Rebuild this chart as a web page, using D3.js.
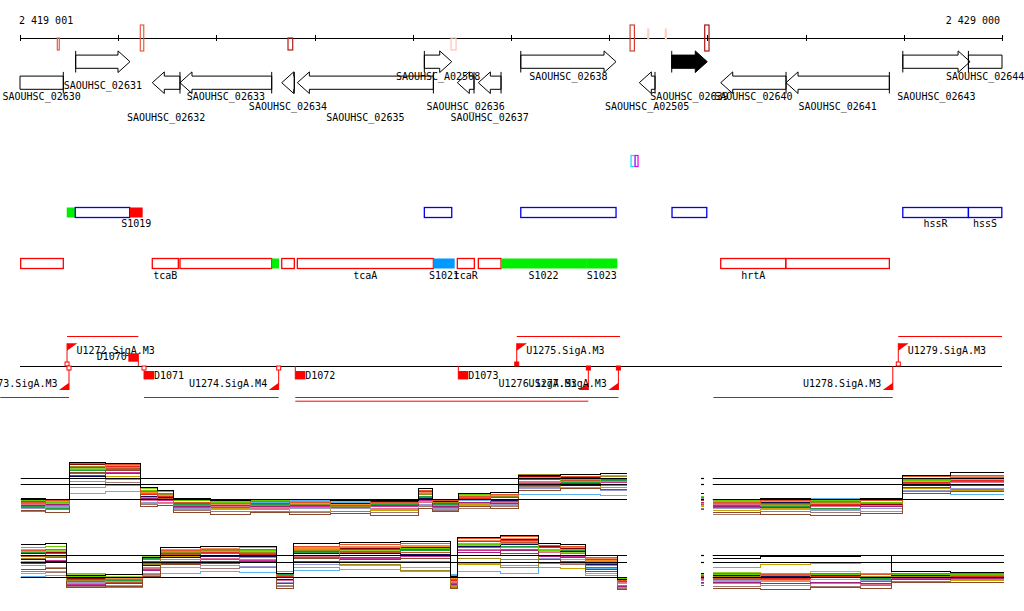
<!DOCTYPE html>
<html>
<head>
<meta charset="utf-8">
<script src="https://cdn.jsdelivr.net/npm/d3@7"></script>
<style>
  body { margin: 0; background: #fff; }
  text { font-family: "DejaVu Sans Mono", monospace; font-size: 10px; fill: #000; }
</style>
</head>
<body>
<div id="chart"></div>
<script>
// region shown
const regionStart = 2419001;
const regionEnd = 2429000;
const rulerLabels = ["2 419 001", "2 429 000"];
const rulerTickStep = 1000;

// marks on the ruler (score -> colour)
const markStarts = [2419381, 2420226, 2421730, 2423390, 2425213, 2425393, 2425572, 2425973];
const markEnds   = [2419401, 2420261, 2421778, 2423441, 2425257, 2425403, 2425582, 2426017];
const markKinds  = ["below", "both", "below", "below", "both", "above", "above", "both"];
const markScores = [0.55, 0.55, 0.9, 0.12, 0.7, 0.08, 0.08, 0.95];

// genes
const geneNames = ["SAOUHSC_02630", "SAOUHSC_02631", "SAOUHSC_02632", "SAOUHSC_02633", "SAOUHSC_02634",
  "SAOUHSC_02635", "SAOUHSC_A02508", "SAOUHSC_02636", "SAOUHSC_02637", "SAOUHSC_02638",
  "SAOUHSC_A02505", "SAOUHSC_02639", "SAOUHSC_02640", "SAOUHSC_02641", "SAOUHSC_02643", "SAOUHSC_02644"];
const geneStarts = [2418800, 2419568, 2420348, 2420630, 2421666, 2421825, 2423118, 2423454, 2423668, 2424100,
  2425307, 2425637, 2426136, 2426801, 2427990, 2428658];
const geneEnds = [2419442, 2420121, 2420630, 2421564, 2421794, 2423210, 2423397, 2423624, 2423899, 2425070,
  2425467, 2425999, 2426801, 2427853, 2428675, 2429100];
const geneStrands = [-1, 1, -1, -1, -1, -1, 1, -1, -1, 1, -1, 1, -1, -1, 1, 1];
const geneLabelRows = [2, 1, 4, 2, 3, 4, 0, 3, 4, 0, 3, 2, 2, 3, 2, 0];
const selectedGene = "SAOUHSC_02639";

// small features
const smallStarts = [2425223, 2425264];
const smallEnds = [2425264, 2425294];
const smallTypes = ["cyan", "magenta"];

// operon / segment track
const segStarts = [2419477, 2419564, 2420118, 2423118, 2424100, 2425640, 2427990, 2428658];
const segEnds   = [2419564, 2420118, 2420250, 2423397, 2425070, 2425994, 2428658, 2428998];
const segTypes  = ["up", "orf", "down", "orf", "orf", "orf", "orf", "orf"];
const segLabels = ["", "", "S1019", "", "", "", "hssR", "hssS"];

// annotation track
const annStarts = [2419008, 2420348, 2420630, 2421564, 2421666, 2421825, 2423210, 2423454, 2423668, 2423899, 2424765, 2426136, 2426798];
const annEnds   = [2419442, 2420613, 2421564, 2421638, 2421794, 2423210, 2423427, 2423627, 2423899, 2424765, 2425083, 2426798, 2427853];
const annTypes  = ["gene", "gene", "gene", "srnaG", "gene", "gene", "srnaB", "gene", "gene", "srnaG", "srnaG", "gene", "gene"];
const annLabels = ["", "tcaB", "", "", "", "tcaA", "S1021", "tcaR", "", "S1022", "S1023", "hrtA", ""];

// transcription units
const unitNames   = ["U1272.SigA.M3", "U1275.SigA.M3", "U1279.SigA.M3", "U1273.SigA.M3", "U1274.SigA.M4",
  "U1276.SigA.M3", "U1277.SigA.M3", "U1278.SigA.M3"];
const unitTss     = [2419480, 2424059, 2427944, 2419500, 2421635, 2424788, 2425094, 2427888];
const unitOtherEnd = [2420206, 2425111, 2429000, 2418800, 2420264, 2421804, 2421804, 2426061];
const unitStrands = [1, 1, 1, -1, -1, -1, -1, -1];
const unitMarkers = ["open", "filled", "open", "open", "open", "filled", "filled", "none"];
const unitRows    = [0, 0, 0, 0, 0, 1, 0, 0];

// terminators
const termNames   = ["D1070", "D1071", "D1072", "D1073"];
const termPos     = [2420206, 2420264, 2421804, 2423464];
const termStrands = [1, -1, -1, -1];
const termMarkers = ["none", "open", "none", "none"];

// expression: step starts for each block, then block end
const p1Left = [2419008, 2419256, 2419500, 2419867, 2420223, 2420396, 2420559, 2420936, 2421343, 2421750,
  2422158, 2422565, 2423054, 2423206, 2423461, 2423787, 2424072, 2424500, 2424907];
const p2Left = [2419008, 2419256, 2419477, 2419867, 2420253, 2420427, 2420834, 2421241, 2421608, 2421781,
  2422259, 2422871, 2423380, 2423451, 2423889, 2424276, 2424500, 2424755, 2425081];
const leftEnd = 2425182;
const stubStarts = [2425935];
const stubEnd = 2425966;
const p1Right = [2426055, 2426537, 2427046, 2427555, 2427983, 2428471];
const p2Right = [2426055, 2426537, 2427046, 2427555, 2427870, 2428471];
const rightEnd = 2429020;

const refLevels1 = [11, 10, 7.5];
const refLevels2 = [11, 9.8, 7.3];

const expr1 = [
  [7.6,7.4, 13.6,13.5, 9.4,9.0, 7.6,7.3,7.4,7.5,7.3,7.2, 9.2,7.5, 8.4,8.6, 11.4,11.6,11.8, 8.4, 7.5,7.6,7.4,7.6, 11.5,11.9],
  [7.0,7.2, 13.4,13.2, 8.8,8.5, 7.0,6.8,7.1,6.9,7.2,7.0, 9.0,7.3, 8.0,8.3, 10.9,11.2,11.0, 7.8, 7.0,7.3,7.1,7.2, 11.2,11.4],
  [6.8,6.5, 13.0,13.3, 8.5,8.2, 6.5,6.7,6.4,6.6,6.3,6.8, 8.2,6.9, 7.8,8.0, 11.6,11.0,11.3, 7.5, 6.8,6.6,6.9,6.7, 10.8,11.1],
  [7.3,7.0, 12.5,12.8, 9.0,8.7, 7.2,7.0,7.3,7.1,7.4,7.0, 8.5,7.4, 8.2,7.9, 10.5,10.7,10.4, 8.0, 7.3,7.5,7.2,7.0, 10.6,10.9],
  [5.6,5.2, 12.0,12.2, 6.2,6.5, 5.3,5.0,5.2,4.9,5.1,4.8, 6.0,5.4, 6.2,6.0, 9.0,9.3,9.1, 5.8, 5.3,5.0,4.8,5.1, 8.5,8.8],
  [6.4,6.6, 11.5,11.8, 7.6,7.4, 6.2,6.4,6.3,6.5,6.2,6.4, 7.4,6.3, 7.0,6.8, 9.8,10.1,9.9, 7.0, 6.3,6.1,6.4,6.2, 9.5,9.8],
  [6.9,6.7, 8.4,8.7, 7.8,7.5, 6.9,7.1,7.0,7.2,7.0,6.9, 7.1,7.0, 7.3,7.5, 8.3,8.2,8.1, 7.6, 7.1,7.3,7.6,7.5, 8.4,8.2],
  [6.0,6.2, 9.4,9.7, 7.0,6.8, 6.0,5.8,6.1,5.9,6.0,5.7, 6.6,6.0, 6.4,6.6, 9.2,9.5,9.0, 6.4, 6.0,5.8,5.6,5.9, 9.0,9.3],
  [6.6,6.3, 10.5,10.8, 7.2,7.0, 6.0,6.2,5.9,6.1,6.3,6.0, 7.0,6.5, 6.8,7.0, 10.2,10.4,10.0, 6.8, 6.6,6.4,6.2,6.5, 10.0,10.3],
  [7.1,6.9, 12.8,13.0, 8.2,8.0, 6.7,6.5,6.8,6.6,6.9,6.4, 8.8,6.8, 7.6,7.8, 10.7,11.0,10.8, 7.2, 6.5,6.8,6.6,6.3, 10.3,10.6],
  [7.2,7.0, 11.2,11.0, 8.0,7.8, 7.0,6.9,7.1,7.0,6.8,7.1, 7.6,7.1, 7.5,7.3, 10.0,9.7,9.9, 7.4, 7.2,7.0,7.1,6.9, 9.7,9.9],
  [6.2,6.0, 12.2,12.5, 7.9,7.7, 6.6,6.3,6.6,6.4,6.5,6.6, 8.0,6.6, 7.2,7.4, 10.4,10.2,10.6, 6.9, 6.1,6.3,6.0,6.4, 10.1,10.4],
  [5.9,6.1, 11.0,11.3, 6.8,7.0, 5.8,6.0,5.7,5.5,5.9,5.6, 6.4,5.8, 6.6,6.4, 9.5,9.7,9.4, 6.2, 5.6,5.9,5.7,5.4, 9.2,9.0],
  [6.5,6.8, 13.0,12.7, 8.4,8.1, 6.8,6.6,6.9,6.7,7.0,6.7, 8.6,7.0, 7.9,8.1, 11.1,11.3,11.5, 7.7, 6.9,7.1,6.8,7.0, 11.0,11.3],
  [6.9,7.1, 12.9,13.1, 8.6,8.3, 6.9,7.2,6.8,7.0,6.6,6.9, 8.4,7.1, 7.7,8.2, 11.0,10.9,11.2, 7.6, 7.1,6.9,7.3,6.8, 10.9,11.0],
  [6.3,6.5, 11.8,12.0, 7.4,7.2, 6.4,6.1,6.5,6.3,6.1,6.3, 7.2,6.2, 6.9,7.1, 10.1,9.8,10.2, 6.7, 6.4,6.2,6.6,6.0, 9.8,10.0],
  [7.4,7.2, 12.6,12.4, 9.2,8.9, 7.4,7.2,7.0,7.3,7.1,7.3, 8.7,7.2, 8.1,8.3, 10.8,10.5,10.9, 7.9, 7.4,7.2,7.0,7.3, 10.5,10.7],
  [6.1,5.9, 12.4,12.6, 7.3,7.6, 6.1,5.9,6.2,6.0,6.4,5.8, 7.8,6.1, 7.4,7.0, 10.3,10.6,10.4, 6.6, 5.9,6.1,5.8,6.2, 10.2,9.9],
  [7.0,6.8, 13.2,13.0, 8.0,8.4, 6.6,6.9,6.6,6.8,6.7,6.5, 8.3,6.7, 7.5,7.7, 11.3,11.1,11.0, 7.3, 6.7,6.9,7.0,6.6, 10.7,11.1],
  [5.4,5.7, 10.0,10.3, 6.6,6.4, 5.6,5.4,5.5,5.2,5.5,5.3, 6.2,5.6, 6.0,6.3, 9.6,9.4,9.7, 6.0, 5.0,5.4,5.2,5.5, 8.8,9.1]
];

const expr2 = [
  [12.8,12.9, 7.6,7.8, 10.6,12.2,12.4,12.5, 7.9, 13.0,13.1,13.2, 7.4, 14.0,14.3, 12.9,12.8, 11.0, 7.0, 8.0, 10.5,10.7,10.8,10.9, 8.2,8.1],
  [11.8,12.0, 7.2,7.0, 10.2,11.8,12.0,11.9, 7.6, 12.5,12.7,12.9, 7.0, 13.8,14.1, 12.6,12.4, 10.6, 6.8, 7.6, 8.0,7.8,7.9,7.7, 7.9,8.0],
  [10.5,10.8, 6.8,6.9, 9.5,11.5,11.7,11.4, 7.2, 11.8,9.5,8.4, 6.0, 10.5,9.0, 11.0,11.2, 9.8, 6.0, 7.0, 7.4,7.6,7.3,7.5, 7.5,7.6],
  [12.2,12.4, 7.5,7.7, 11.0,11.6,11.9,11.8, 8.2, 12.0,12.2,12.1, 7.6, 12.8,13.0, 11.8,12.0, 10.0, 7.1, 7.8, 7.8,8.0,7.7,7.9, 7.7,7.8],
  [8.6,8.8, 5.6,5.8, 7.4,9.5,9.6,9.8, 5.5, 10.4,10.6,10.5, 5.4, 11.0,11.3, 10.2,10.0, 8.2, 5.2, 6.0, 5.5,5.3,5.6,5.4, 6.5,6.4],
  [9.6,9.8, 6.0,6.2, 8.4,9.6,9.9,10.0, 6.2, 10.0,10.2,10.4, 6.1, 11.5,11.8, 10.8,10.6, 8.6, 5.8, 6.5, 6.4,6.2,6.5,6.3, 7.0,7.1],
  [7.4,7.6, 7.9,7.8, 7.6,8.0,8.2,8.1, 7.6, 8.4,8.6,8.5, 7.8, 8.2,8.0, 9.8,9.6, 8.8, 7.1, 7.6, 7.7,7.9,7.8,8.0, 7.8,7.7],
  [8.0,8.3, 6.4,6.6, 8.0,9.0,9.2,9.1, 6.5, 9.4,9.2,9.0, 6.6, 9.6,9.8, 10.5,10.3, 8.0, 6.2, 6.8, 6.8,6.6,6.9,6.7, 7.2,7.3],
  [9.2,9.0, 6.5,6.3, 8.8,10.2,10.4,10.3, 6.8, 10.8,11.0,10.9, 6.4, 12.0,12.3, 11.4,11.2, 9.2, 6.4, 7.2, 6.2,6.0,6.3,6.1, 6.9,7.0],
  [11.0,11.3, 7.0,7.2, 10.0,11.2,11.4,11.1, 7.4, 11.6,11.9,12.0, 6.8, 13.2,13.5, 12.2,12.0, 10.3, 6.6, 7.4, 7.3,7.1,7.4,7.2, 7.4,7.5],
  [10.2,10.0, 7.4,7.3, 9.2,10.6,10.8,10.7, 7.0, 11.2,11.3,11.1, 7.2, 12.5,12.8, 11.8,11.6, 9.5, 6.9, 7.3, 7.6,7.4,7.5,7.3, 7.6,7.4],
  [11.5,11.2, 6.6,6.8, 10.4,11.0,11.3,11.2, 7.8, 11.4,11.6,11.7, 6.5, 12.2,12.5, 11.5,11.7, 9.6, 6.2, 7.0, 7.0,7.2,6.9,7.1, 7.3,7.2],
  [10.0,9.8, 6.2,6.0, 9.0,10.8,10.5,10.6, 6.0, 9.0,8.6,8.3, 5.8, 9.5,9.2, 9.0,8.8, 7.6, 5.6, 6.4, 9.0,9.4,9.6,9.8, 7.0,6.8],
  [11.4,11.6, 6.9,7.1, 9.8,11.9,12.1,12.2, 7.5, 12.3,12.4,12.6, 6.9, 13.5,13.8, 12.3,12.5, 10.4, 6.7, 7.5, 6.6,6.8,6.5,6.7, 7.2,7.4],
  [11.6,11.9, 7.3,7.1, 10.0,11.4,11.6,11.7, 7.7, 12.1,12.3,12.4, 7.1, 13.0,13.3, 12.0,12.2, 10.1, 6.9, 7.7, 7.9,7.7,7.8,8.0, 7.6,7.9],
  [9.8,10.1, 6.1,6.3, 8.6,10.0,10.2,10.1, 6.4, 10.6,10.4,10.7, 6.2, 11.8,12.0, 11.0,10.8, 8.9, 6.0, 6.7, 6.5,6.7,6.4,6.6, 7.1,6.9],
  [12.0,11.7, 7.7,7.5, 10.8,11.3,11.5,11.6, 8.0, 11.9,11.7,11.9, 7.4, 12.6,12.4, 11.6,11.4, 9.9, 7.0, 7.9, 8.1,7.9,8.2,8.0, 8.0,7.8],
  [10.8,10.6, 6.7,6.5, 9.6,11.1,10.9,11.0, 7.0, 11.0,11.4,11.5, 6.6, 12.9,13.1, 11.9,11.8, 9.7, 6.3, 7.1, 7.1,6.9,7.2,7.0, 7.3,7.1],
  [11.2,11.4, 7.1,6.9, 10.3,11.6,11.8,11.5, 7.3, 11.9,12.1,12.2, 6.7, 13.4,13.6, 12.4,12.1, 10.2, 6.5, 7.2, 7.5,7.3,7.6,7.4, 7.5,7.3],
  [8.3,8.1, 5.8,5.6, 7.8,9.0,8.8,8.9, 5.8, 9.8,9.9,10.0, 5.6, 10.4,10.2, 9.6,9.4, 7.9, 5.4, 6.2, 5.8,6.0,5.7,5.9, 6.6,6.7]
];

// ---------------------------------------------------------------
const width = 1024, height = 611;
const red = "#ff0000";
const segColors = { up: "#00ee00", orf: "#0000ee", down: "#ff0000" };
const annColors = { gene: "#ff0000", srnaG: "#00ee00", srnaB: "#0099ff" };
const smallColors = { cyan: "#00e5ee", magenta: "#ee00ee" };
const traceColors = ["#000000", "#e0562a", "#9c8a1c", "#66cc00", "#8b4a2b", "#a0207a", "#5ab4f0",
  "#9a9ad0", "#e07090", "#e8281e", "#10105a", "#20a040", "#c8a000", "#f08a60",
  "#ff8c1a", "#cc3399", "#99cc33", "#c0562a", "#8b0000", "#a0786e"];

const svg = d3.select("#chart").append("svg")
  .attr("width", width).attr("height", height)
  .style("background", "#fff");

const x = d3.scaleLinear().domain([regionStart, regionEnd]).range([20, 1002]);
const xMin = 20, xMax = 1002;

// ruler
const rulerY = 38;
svg.append("line").attr("x1", xMin).attr("x2", xMax).attr("y1", rulerY).attr("y2", rulerY)
  .attr("stroke", "#000").attr("shape-rendering", "crispEdges");
const ticks = d3.range(regionStart, regionEnd + 1, rulerTickStep).concat([regionEnd]);
svg.selectAll(".tick").data(ticks).enter().append("line")
  .attr("x1", d => Math.round(x(d)) + 0.5).attr("x2", d => Math.round(x(d)) + 0.5)
  .attr("y1", rulerY - 3).attr("y2", rulerY + 3).attr("stroke", "#000");
svg.append("text").attr("x", 19).attr("y", 24).text(rulerLabels[0]);
svg.append("text").attr("x", 1000).attr("y", 24).attr("text-anchor", "end").text(rulerLabels[1]);

const markColor = d3.scaleLinear().domain([0, 0.5, 1]).range(["#ffe4d8", "#f26448", "#a00a0a"]);
const markExtent = { below: [38, 50], both: [25, 51], above: [29, 39] };
markStarts.forEach((s, i) => {
  const e = markExtent[markKinds[i]];
  const x0 = x(s), w = Math.max(x(markEnds[i]) - x0, 1);
  svg.append("rect").attr("x", x0).attr("y", e[0]).attr("width", w).attr("height", e[1] - e[0])
    .attr("fill", "none").attr("stroke", markColor(markScores[i])).attr("stroke-width", 1.2);
});

// genes
const labelRowY = [79.5, 89, 100, 109.5, 121];
const genes = geneNames.map((n, i) => ({
  name: n, start: geneStarts[i], end: geneEnds[i], strand: geneStrands[i], row: geneLabelRows[i]
}));
const gGenes = svg.append("g");
genes.forEach(d => {
  let a = x(d.start), b = x(d.end);
  const clipL = a < xMin, clipR = b > xMax;
  a = Math.max(a, xMin); b = Math.min(b, xMax);
  const cy = d.strand > 0 ? 61.7 : 82.7;
  const bh = 6.6, hh = 10.8;
  const head = Math.min(12, b - a);
  let p;
  if (d.strand > 0 && !clipR) {
    p = `M${a},${cy - bh}L${b - head},${cy - bh}L${b - head},${cy - hh}L${b},${cy}L${b - head},${cy + hh}L${b - head},${cy + bh}L${a},${cy + bh}Z`;
  } else if (d.strand < 0 && !clipL) {
    p = `M${b},${cy - bh}L${a + head},${cy - bh}L${a + head},${cy - hh}L${a},${cy}L${a + head},${cy + hh}L${a + head},${cy + bh}L${b},${cy + bh}Z`;
  } else {
    p = `M${a},${cy - bh}L${b},${cy - bh}L${b},${cy + bh}L${a},${cy + bh}Z`;
  }
  const filled = d.name === selectedGene;
  gGenes.append("path").attr("d", p)
    .attr("fill", filled ? "#000" : "none").attr("stroke", "#000").attr("stroke-width", 1);
  // start line
  const sx = d.strand > 0 ? a : b;
  if ((d.strand > 0 && !clipL) || (d.strand < 0 && !clipR)) {
    gGenes.append("line").attr("x1", sx).attr("x2", sx).attr("y1", cy - hh).attr("y2", cy + hh)
      .attr("stroke", "#000");
  }
  gGenes.append("text").attr("x", (a + b) / 2).attr("y", labelRowY[d.row])
    .attr("text-anchor", "middle").text(d.name);
});

// small features
smallStarts.forEach((s, i) => {
  svg.append("rect").attr("x", x(s)).attr("y", 155.5).attr("width", x(smallEnds[i]) - x(s)).attr("height", 11)
    .attr("fill", "none").attr("stroke", smallColors[smallTypes[i]]).attr("stroke-width", 1.2);
});

// block tracks
function blockTrack(starts, ends, types, labels, colors, outlined, y0, labelY) {
  const g = svg.append("g");
  starts.forEach((s, i) => {
    const a = Math.max(x(s), xMin), b = Math.min(x(ends[i]), xMax);
    const t = types[i];
    const r = g.append("rect").attr("x", a).attr("y", y0).attr("width", b - a).attr("height", 10);
    if (outlined.includes(t)) {
      r.attr("fill", "none").attr("stroke", colors[t]).attr("stroke-width", 1.3);
    } else {
      r.attr("fill", colors[t]);
    }
    if (labels[i]) {
      g.append("text").attr("x", (a + b) / 2).attr("y", labelY).attr("text-anchor", "middle").text(labels[i]);
    }
  });
}
blockTrack(segStarts, segEnds, segTypes, segLabels, segColors, ["orf"], 207.5, 227);
blockTrack(annStarts, annEnds, annTypes, annLabels, annColors, ["gene"], 258.5, 278.5);

// transcription units
const axisY = 366;
svg.append("line").attr("x1", xMin).attr("x2", xMax).attr("y1", axisY).attr("y2", axisY)
  .attr("stroke", "#000").attr("shape-rendering", "crispEdges");
const gU = svg.append("g");
function marker(px, strand, kind) {
  if (kind === "none") return;
  const y0 = strand > 0 ? axisY - 4 : axisY;
  gU.append("rect").attr("x", px - 2).attr("y", y0).attr("width", 4).attr("height", 4)
    .attr("fill", kind === "filled" ? red : "#fff").attr("stroke", red).attr("stroke-width", 1);
}
unitNames.forEach((n, i) => {
  const t = x(unitTss[i]), o = x(unitOtherEnd[i]);
  if (unitStrands[i] > 0) {
    gU.append("line").attr("x1", t).attr("x2", Math.min(o, xMax)).attr("y1", 336.5).attr("y2", 336.5)
      .attr("stroke", red);
    gU.append("line").attr("x1", t).attr("x2", t).attr("y1", axisY).attr("y2", 343.3).attr("stroke", red);
    gU.append("path").attr("d", `M${t},343.3L${t + 10.3},343.3L${t},350.7Z`).attr("fill", red);
    gU.append("text").attr("x", t + 9.5).attr("y", 353.8).text(n);
  } else {
    const ly = 397.5 + unitRows[i] * 3.7;
    gU.append("line").attr("x1", o).attr("x2", t).attr("y1", ly).attr("y2", ly).attr("stroke", red);
    gU.append("line").attr("x1", t).attr("x2", t).attr("y1", axisY).attr("y2", 390).attr("stroke", red);
    gU.append("path").attr("d", `M${t},390L${t - 10},390L${t},382.7Z`).attr("fill", red);
    gU.append("text").attr("x", t - 11.5).attr("y", 387).attr("text-anchor", "end").text(n);
  }
  marker(t, unitStrands[i], unitMarkers[i]);
});
termNames.forEach((n, i) => {
  const p = x(termPos[i]);
  if (termStrands[i] > 0) {
    gU.append("line").attr("x1", p).attr("x2", p).attr("y1", axisY).attr("y2", 353.3).attr("stroke", red);
    gU.append("rect").attr("x", p - 10).attr("y", 353.3).attr("width", 10).attr("height", 8.4).attr("fill", red);
    gU.append("text").attr("x", p - 11.5).attr("y", 360.3).attr("text-anchor", "end").text(n);
  } else {
    gU.append("line").attr("x1", p).attr("x2", p).attr("y1", axisY).attr("y2", 379.3).attr("stroke", red);
    gU.append("rect").attr("x", p).attr("y", 371).attr("width", 10).attr("height", 8.4).attr("fill", red);
    gU.append("text").attr("x", p + 10).attr("y", 378.6).text(n);
  }
  marker(p, termStrands[i], termMarkers[i]);
});

// expression panels
function buildPoints(blocks, vals) {
  const pts = [];
  let k = 0;
  blocks.forEach(([starts, end]) => {
    let last;
    starts.forEach(s => { last = vals[k++]; pts.push([s, last]); });
    pts.push([end, last]);
    pts.push(null);
  });
  return pts;
}
function drawPanel(blocks, series, refs, yTop, yBottom) {
  const y = d3.scaleLinear().domain([4, 14]).range([yBottom, yTop]);
  const line = d3.line().defined(d => d !== null)
    .x(d => x(d[0])).y(d => y(d[1])).curve(d3.curveStepAfter);
  const g = svg.append("g");
  series.slice().reverse().forEach((vals, ri) => {
    const i = series.length - 1 - ri;
    g.append("path").datum(buildPoints(blocks, vals)).attr("d", line)
      .attr("fill", "none").attr("stroke", traceColors[i % traceColors.length]).attr("stroke-width", 1)
      .attr("shape-rendering", "crispEdges");
  });
  refs.forEach(r => {
    blocks.forEach(([starts, end]) => {
      g.append("line").attr("x1", x(starts[0])).attr("x2", x(end))
        .attr("y1", Math.round(y(r)) + 0.5).attr("y2", Math.round(y(r)) + 0.5)
        .attr("stroke", "#000").attr("stroke-width", 1.2);
    });
  });
}
drawPanel([[p1Left, leftEnd], [stubStarts, stubEnd], [p1Right, rightEnd]], expr1, refLevels1, 460, 520);
drawPanel([[p2Left, leftEnd], [stubStarts, stubEnd], [p2Right, rightEnd]], expr2, refLevels2, 537, 597);
</script>
</body>
</html>
